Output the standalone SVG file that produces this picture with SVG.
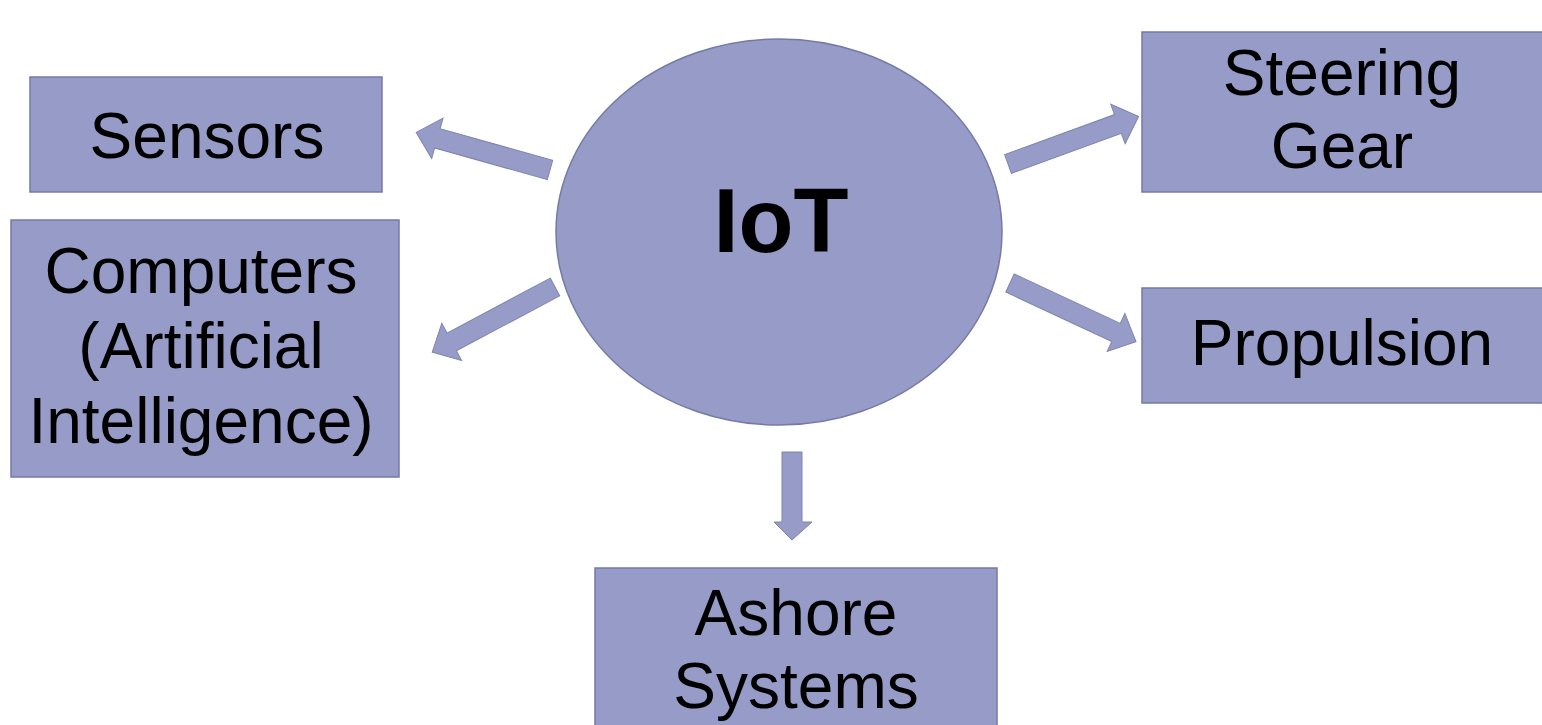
<svg xmlns="http://www.w3.org/2000/svg" width="1542" height="725" viewBox="0 0 1542 725">
  <style>
    .shape { fill: #969BC8; stroke: #747AA6; stroke-width: 1.5; }
    .arrow { fill: #969BC8; stroke: #7F84AE; stroke-width: 1; }
    .label { font-family: "Liberation Sans", Arial, sans-serif; font-size: 64px; fill: #000; text-anchor: middle; }
    .hub { font-family: "Liberation Sans", Arial, sans-serif; font-size: 90px; font-weight: bold; fill: #000; text-anchor: middle; }
  </style>
  <defs>
    <!-- block arrow pointing right, tail centred at the origin -->
    <path id="blockArrow" d="M0,-10 L117,-10 L117,-21 L139,0 L117,21 L117,10 L0,10 Z"/>
  </defs>

  <rect width="1542" height="725" fill="#ffffff"/>

  <g id="connectors">
    <use href="#blockArrow" class="arrow" transform="translate(550,170) rotate(195.7)"/>
    <use href="#blockArrow" class="arrow" transform="translate(555,287) rotate(152)"/>
    <use href="#blockArrow" class="arrow" transform="translate(1008,164) rotate(-20)"/>
    <use href="#blockArrow" class="arrow" transform="translate(1010,283) rotate(25)"/>
    <path class="arrow" d="M782,452 L802,452 L802,522 L812,522 L792,540 L774,522 L782,522 Z"/>
  </g>

  <g id="iot">
    <ellipse class="shape" cx="779" cy="232" rx="223" ry="193"/>
    <text class="hub" x="781" y="252">IoT</text>
  </g>

  <g id="sensors">
    <rect class="shape" x="30" y="77" width="352" height="115"/>
    <text class="label" x="207" y="158">Sensors</text>
  </g>

  <g id="computers">
    <rect class="shape" x="11" y="220" width="388" height="257"/>
    <text class="label" x="201" y="293">Computers</text>
    <text class="label" x="201" y="368">(Artificial</text>
    <text class="label" x="201" y="443">Intelligence)</text>
  </g>

  <g id="steering-gear">
    <rect class="shape" x="1142" y="32" width="410" height="160"/>
    <text class="label" x="1342" y="95">Steering</text>
    <text class="label" x="1342" y="168">Gear</text>
  </g>

  <g id="propulsion">
    <rect class="shape" x="1142" y="288" width="410" height="115"/>
    <text class="label" x="1342" y="365">Propulsion</text>
  </g>

  <g id="ashore-systems">
    <rect class="shape" x="595" y="568" width="402" height="170"/>
    <text class="label" x="796" y="635">Ashore</text>
    <text class="label" x="796" y="708">Systems</text>
  </g>
</svg>
